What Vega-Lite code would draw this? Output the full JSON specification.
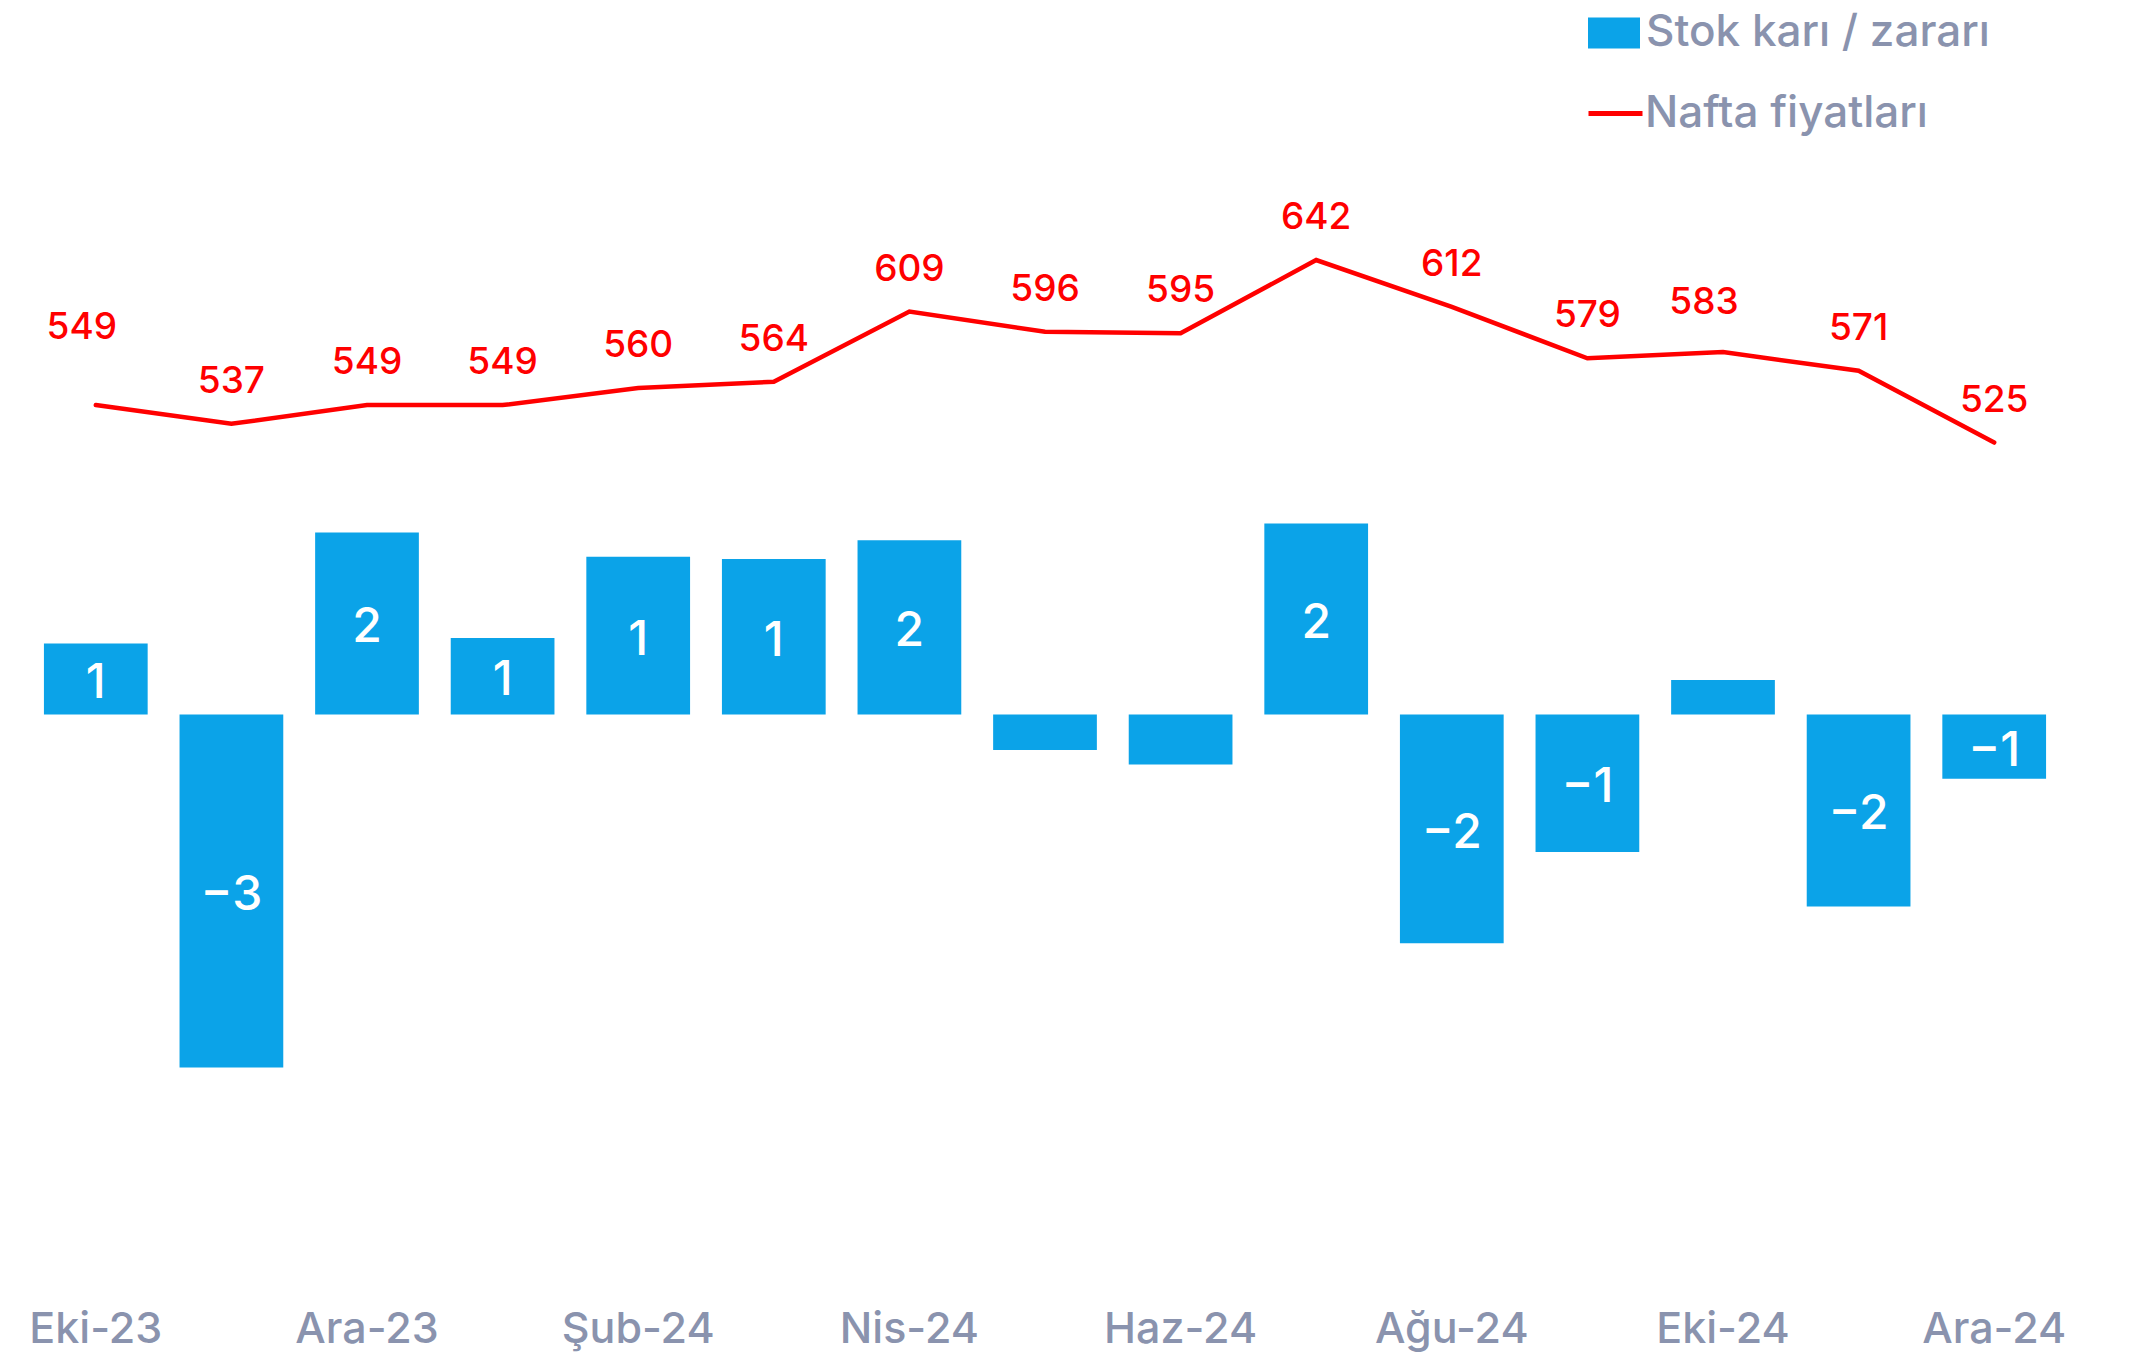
{
  "$schema": "https://vega.github.io/schema/vega-lite/v6.json",
  "width": 2034,
  "height": 1290,
  "padding": {"left": 28, "top": 0, "right": 0, "bottom": 5},
  "background": "#ffffff",
  "data": {
    "values": [
      {"month": "Eki-23", "stok": 0.64, "nafta": 549},
      {"month": "Kas-23", "stok": -3.18, "nafta": 537},
      {"month": "Ara-23", "stok": 1.64, "nafta": 549},
      {"month": "Oca-24", "stok": 0.69, "nafta": 549},
      {"month": "Şub-24", "stok": 1.42, "nafta": 560},
      {"month": "Mar-24", "stok": 1.40, "nafta": 564},
      {"month": "Nis-24", "stok": 1.57, "nafta": 609},
      {"month": "May-24", "stok": -0.32, "nafta": 596},
      {"month": "Haz-24", "stok": -0.45, "nafta": 595},
      {"month": "Tem-24", "stok": 1.72, "nafta": 642},
      {"month": "Ağu-24", "stok": -2.06, "nafta": 612},
      {"month": "Eyl-24", "stok": -1.24, "nafta": 579},
      {"month": "Eki-24", "stok": 0.31, "nafta": 583},
      {"month": "Kas-24", "stok": -1.73, "nafta": 571},
      {"month": "Ara-24", "stok": -0.58, "nafta": 525}
    ]
  },
  "encoding": {
    "x": {
      "field": "month",
      "type": "nominal",
      "sort": null,
      "scale": {"paddingInner": 0.235, "paddingOuter": 0.1175},
      "axis": {
        "title": null,
        "values": ["Eki-23", "Ara-23", "Şub-24", "Nis-24", "Haz-24", "Ağu-24", "Eki-24", "Ara-24"],
        "labelAngle": 0,
        "domain": false,
        "ticks": false,
        "grid": false,
        "labelFont": "Inter",
        "labelFontSize": 43,
        "labelFontWeight": 500,
        "labelColor": "#8A93AE",
        "labelBaseline": "middle",
        "labelPadding": 39
      }
    }
  },
  "layer": [
    {
      "layer": [
        {
          "mark": {"type": "bar"},
          "encoding": {
            "y": {"field": "stok", "type": "quantitative", "scale": {"domain": [-5.185, 6.437], "nice": false, "zero": false}, "axis": null},
            "fill": {
              "datum": "Stok karı / zararı",
              "type": "nominal",
              "scale": {"range": ["#0BA3E8"]},
              "legend": {
                "orient": "none",
                "legendX": 1560,
                "legendY": 7,
                "title": null,
                "symbolType": "M-1,-0.6H1V0.6H-1Z",
                "symbolSize": 2704,
                "symbolStrokeWidth": 0,
                "labelFont": "Inter",
                "labelFontSize": 44,
                "labelFontWeight": 500,
                "labelColor": "#8A93AE",
                "labelOffset": 6,
                "labelLimit": 800
              }
            }
          }
        },
        {
          "transform": [
            {"filter": "abs(datum.stok) >= 0.5"},
            {"calculate": "datum.stok / 2", "as": "mid"}
          ],
          "mark": {"type": "text", "color": "#ffffff", "font": "Inter", "fontSize": 48, "fontWeight": 500, "align": "center", "baseline": "middle", "dy": 5},
          "encoding": {
            "y": {"field": "mid", "type": "quantitative", "scale": {"domain": [-5.185, 6.437], "nice": false, "zero": false}, "axis": null},
            "text": {"field": "stok", "type": "quantitative", "format": ".0f"}
          }
        }
      ]
    },
    {
      "layer": [
        {
          "mark": {"type": "line", "strokeWidth": 4.5, "strokeCap": "round", "strokeJoin": "miter"},
          "encoding": {
            "y": {"field": "nafta", "type": "quantitative", "scale": {"domain": [-18.3, 808.7], "nice": false, "zero": false}, "axis": null},
            "stroke": {
              "datum": "Nafta fiyatları",
              "type": "nominal",
              "scale": {"range": ["#FF0000"]},
              "legend": {
                "orient": "none",
                "legendX": 1558,
                "legendY": 84,
                "title": null,
                "symbolType": "stroke",
                "symbolSize": 2916,
                "symbolStrokeWidth": 5,
                "labelFont": "Inter",
                "labelFontSize": 44,
                "labelFontWeight": 500,
                "labelColor": "#8A93AE",
                "labelOffset": 0,
                "labelLimit": 800
              }
            }
          }
        },
        {
          "transform": [{"filter": "datum.month !== 'Eki-23' && datum.month !== 'Eki-24'"}],
          "mark": {"type": "text", "color": "#FF0000", "font": "Inter", "fontSize": 37, "fontWeight": 500, "align": "center", "baseline": "alphabetic", "dy": -31},
          "encoding": {
            "y": {"field": "nafta", "type": "quantitative", "scale": {"domain": [-18.3, 808.7], "nice": false, "zero": false}, "axis": null},
            "text": {"field": "nafta", "type": "quantitative", "format": "d"}
          }
        },
        {
          "transform": [{"filter": "datum.month === 'Eki-23'"}],
          "mark": {"type": "text", "color": "#FF0000", "font": "Inter", "fontSize": 37, "fontWeight": 500, "align": "center", "baseline": "alphabetic", "dx": -14, "dy": -66},
          "encoding": {
            "y": {"field": "nafta", "type": "quantitative", "scale": {"domain": [-18.3, 808.7], "nice": false, "zero": false}, "axis": null},
            "text": {"field": "nafta", "type": "quantitative", "format": "d"}
          }
        },
        {
          "transform": [{"filter": "datum.month === 'Eki-24'"}],
          "mark": {"type": "text", "color": "#FF0000", "font": "Inter", "fontSize": 37, "fontWeight": 500, "align": "center", "baseline": "alphabetic", "dx": -19, "dy": -38},
          "encoding": {
            "y": {"field": "nafta", "type": "quantitative", "scale": {"domain": [-18.3, 808.7], "nice": false, "zero": false}, "axis": null},
            "text": {"field": "nafta", "type": "quantitative", "format": "d"}
          }
        }
      ]
    }
  ],
  "resolve": {"scale": {"y": "independent"}},
  "config": {"view": {"stroke": null}}
}
